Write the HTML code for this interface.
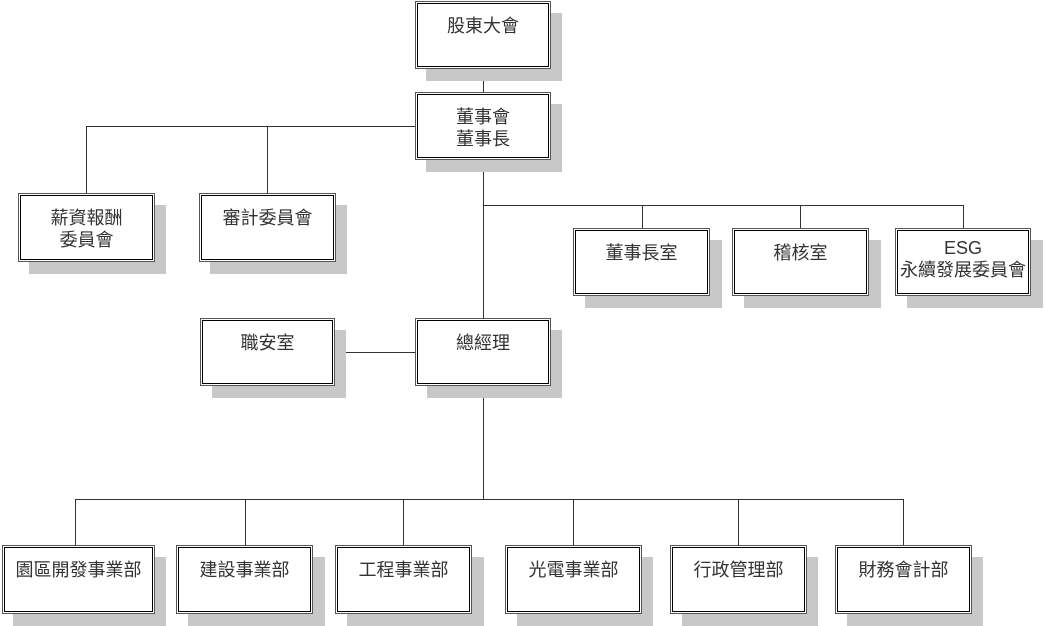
<!DOCTYPE html>
<html><head><meta charset="utf-8"><style>
html,body{margin:0;padding:0;background:#fff;}
body{width:1045px;height:626px;position:relative;overflow:hidden;font-family:"Liberation Sans","Noto Sans CJK TC",sans-serif;}
.b{position:absolute;box-sizing:border-box;border:1px solid #555;background:#fff;}
.b::before{content:"";position:absolute;left:1px;top:1px;right:1px;bottom:1px;border:1px solid #000;}
.s{position:absolute;background:#c8c8c8;}
.t{position:absolute;left:0;right:0;top:13px;text-align:center;font-size:18px;line-height:22px;color:#333;}
.l{position:absolute;background:#333;}
</style></head><body>
<div class="l" style="left:483px;top:69px;width:1px;height:430px"></div>
<div class="l" style="left:86px;top:126px;width:329px;height:1px"></div>
<div class="l" style="left:86px;top:126px;width:1px;height:67px"></div>
<div class="l" style="left:267px;top:126px;width:1px;height:67px"></div>
<div class="l" style="left:483px;top:205px;width:480px;height:1px"></div>
<div class="l" style="left:642px;top:205px;width:1px;height:23px"></div>
<div class="l" style="left:800px;top:205px;width:1px;height:23px"></div>
<div class="l" style="left:963px;top:205px;width:1px;height:23px"></div>
<div class="l" style="left:334px;top:352px;width:81px;height:1px"></div>
<div class="l" style="left:75px;top:499px;width:829px;height:1px"></div>
<div class="l" style="left:75px;top:499px;width:1px;height:46px"></div>
<div class="l" style="left:245px;top:499px;width:1px;height:46px"></div>
<div class="l" style="left:403px;top:499px;width:1px;height:46px"></div>
<div class="l" style="left:573px;top:499px;width:1px;height:46px"></div>
<div class="l" style="left:738px;top:499px;width:1px;height:46px"></div>
<div class="l" style="left:903px;top:499px;width:1px;height:46px"></div>

<div class="s" style="left:426px;top:13px;width:136px;height:68px"></div>
<div class="s" style="left:426px;top:104px;width:136px;height:68px"></div>
<div class="s" style="left:29px;top:205px;width:137px;height:69px"></div>
<div class="s" style="left:210px;top:205px;width:137px;height:69px"></div>
<div class="s" style="left:585px;top:240px;width:137px;height:68px"></div>
<div class="s" style="left:744px;top:240px;width:137px;height:68px"></div>
<div class="s" style="left:907px;top:240px;width:136px;height:68px"></div>
<div class="s" style="left:212px;top:330px;width:134px;height:68px"></div>
<div class="s" style="left:427px;top:330px;width:135px;height:68px"></div>
<div class="s" style="left:13px;top:557px;width:153px;height:69px"></div>
<div class="s" style="left:188px;top:557px;width:137px;height:69px"></div>
<div class="s" style="left:347px;top:557px;width:137px;height:69px"></div>
<div class="s" style="left:517px;top:557px;width:136px;height:69px"></div>
<div class="s" style="left:682px;top:557px;width:136px;height:69px"></div>
<div class="s" style="left:847px;top:557px;width:136px;height:69px"></div>

<div class="b" style="left:415px;top:1px;width:136px;height:68px"><div class="t">股東大會</div></div>
<div class="b" style="left:415px;top:92px;width:136px;height:68px"><div class="t">董事會<br>董事長</div></div>
<div class="b" style="left:18px;top:193px;width:137px;height:69px"><div class="t">薪資報酬<br>委員會</div></div>
<div class="b" style="left:199px;top:193px;width:137px;height:69px"><div class="t">審計委員會</div></div>
<div class="b" style="left:573px;top:228px;width:137px;height:68px"><div class="t">董事長室</div></div>
<div class="b" style="left:732px;top:228px;width:137px;height:68px"><div class="t">稽核室</div></div>
<div class="b" style="left:895px;top:228px;width:136px;height:68px"><div class="t" style="top:8px">ESG<br>永續發展委員會</div></div>
<div class="b" style="left:200px;top:318px;width:135px;height:68px"><div class="t">職安室</div></div>
<div class="b" style="left:415px;top:318px;width:136px;height:68px"><div class="t">總經理</div></div>
<div class="b" style="left:2px;top:545px;width:153px;height:69px"><div class="t">園區開發事業部</div></div>
<div class="b" style="left:176px;top:545px;width:137px;height:69px"><div class="t">建設事業部</div></div>
<div class="b" style="left:335px;top:545px;width:137px;height:69px"><div class="t">工程事業部</div></div>
<div class="b" style="left:505px;top:545px;width:137px;height:69px"><div class="t">光電事業部</div></div>
<div class="b" style="left:670px;top:545px;width:137px;height:69px"><div class="t">行政管理部</div></div>
<div class="b" style="left:835px;top:545px;width:137px;height:69px"><div class="t">財務會計部</div></div>
</body></html>
